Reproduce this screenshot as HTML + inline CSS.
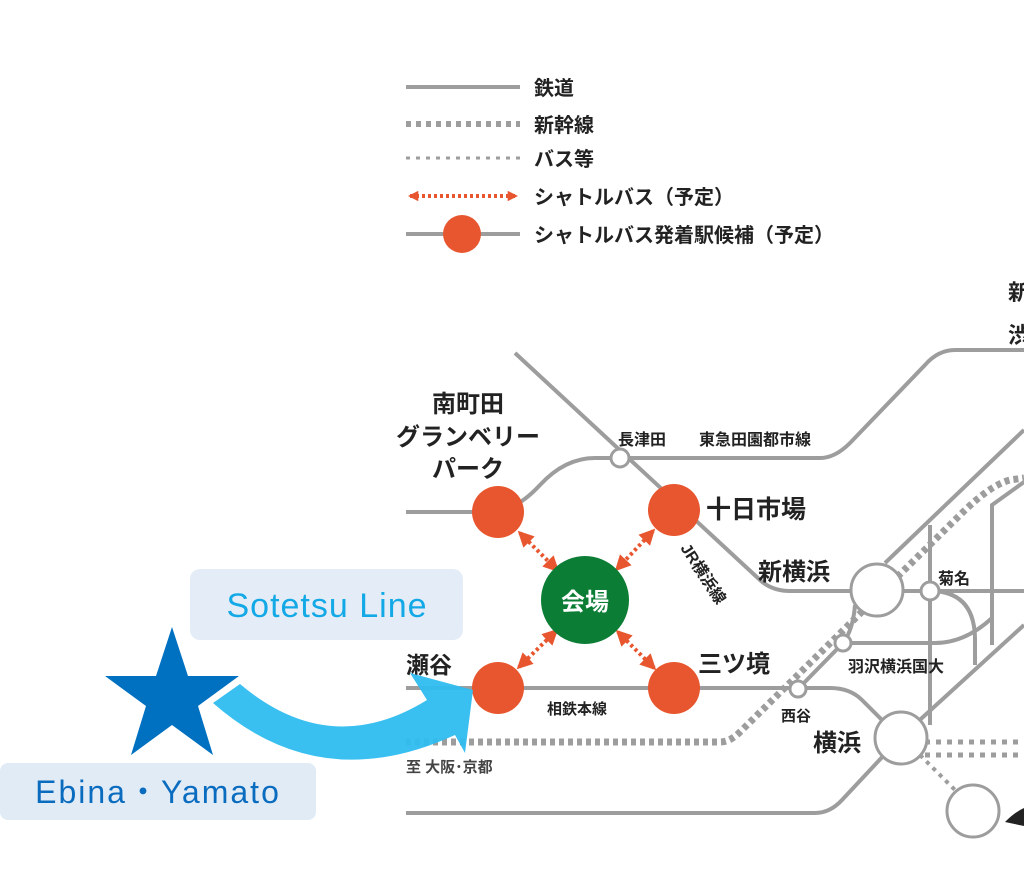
<!DOCTYPE html>
<html><head><meta charset="utf-8"><style>
html,body{margin:0;padding:0;background:#fff;}
svg{display:block;font-family:"Liberation Sans","Noto Sans CJK JP",sans-serif;}
</style></head><body>
<svg width="1024" height="873" viewBox="0 0 1024 873" xmlns="http://www.w3.org/2000/svg">
<defs>
<marker id="ah" viewBox="0 0 10 10" refX="8" refY="5" markerWidth="4" markerHeight="4" orient="auto-start-reverse"><path d="M0,0 L10,5 L0,10 Z" fill="#e8562f"/></marker>
<marker id="ah2" viewBox="0 0 10 10" refX="8" refY="5" markerWidth="2.6" markerHeight="2.6" orient="auto-start-reverse"><path d="M0,0 L10,5 L0,10 Z" fill="#e8562f"/></marker>
</defs>
<g fill="none" stroke="#9d9d9d" stroke-width="4">
<line x1="406" y1="87" x2="520" y2="87"/>
<line x1="406" y1="124" x2="520" y2="124" stroke-width="6" stroke-dasharray="5,5"/>
<line x1="406" y1="158" x2="520" y2="158" stroke-width="3" stroke-dasharray="4,6"/>
<line x1="406" y1="234" x2="520" y2="234"/>
<path d="M406,512 L490,512 Q515,512 540,485 Q565,458 595,458 L820,458 Q835,458 850,443 L925,365 Q938,350 955,350 L1024,350"/>
<path d="M515,353 L760,580 Q772,591 790,591 L1024,591" />
<path d="M930,591 Q975,591 975,640 L975,665"/>
<line x1="930" y1="525" x2="930" y2="725"/>
<path d="M992,645 L992,505 L1024,482"/>
<line x1="885" y1="563" x2="1024" y2="430"/>
<path d="M406,688 L830,688 Q850,688 862,700 L900,738"/>
<path d="M798,689 L843,643 Q853,630 855,605"/>
<path d="M843,643 L935,643 Q965,643 992,618"/>
<path d="M406,813 L815,813 Q830,813 842,800 L900,738"/>
<path d="M900,738 L1024,625"/>
<path d="M406,742 L720,742 Q730,742 740,732 L960,515 Q990,485 1010,480 L1024,478" stroke-width="7" stroke-dasharray="5,4"/>
<line x1="925" y1="742" x2="1024" y2="742" stroke-width="5" stroke-dasharray="5,6"/>
<line x1="925" y1="755" x2="1024" y2="755" stroke-width="5" stroke-dasharray="5,6"/>
<line x1="920" y1="755" x2="960" y2="795" stroke-width="4" stroke-dasharray="4,5"/>
</g>
<line x1="410" y1="196" x2="516" y2="196" stroke="#e8562f" stroke-width="4" stroke-dasharray="3,3" marker-start="url(#ah2)" marker-end="url(#ah2)"/>
<circle cx="462" cy="234" r="19" fill="#e8562f"/>
<g font-size="20" fill="#222" font-weight="bold">
<text x="534" y="95">鉄道</text>
<text x="534" y="132">新幹線</text>
<text x="534" y="166">バス等</text>
<text x="534" y="204">シャトルバス（予定）</text>
<text x="534" y="242">シャトルバス発着駅候補（予定）</text>
</g>
<g fill="#fff" stroke="#9d9d9d" stroke-width="3">
<circle cx="620" cy="458" r="9"/>
<circle cx="877" cy="590" r="26"/>
<circle cx="930" cy="591" r="9"/>
<circle cx="843" cy="643" r="8"/>
<circle cx="798" cy="689" r="8"/>
<circle cx="901" cy="738" r="26"/>
<circle cx="973" cy="811" r="26"/>
</g>
<path d="M1005,822 Q1015,812 1024,808 L1024,826 Z" fill="#222"/>
<g stroke="#e8562f" stroke-width="4" stroke-dasharray="3,3" fill="none">
<line x1="520" y1="533" x2="557" y2="570" marker-start="url(#ah)" marker-end="url(#ah)"/>
<line x1="653" y1="531" x2="617" y2="569" marker-start="url(#ah)" marker-end="url(#ah)"/>
<line x1="519" y1="667" x2="556" y2="631" marker-start="url(#ah)" marker-end="url(#ah)"/>
<line x1="654" y1="668" x2="618" y2="632" marker-start="url(#ah)" marker-end="url(#ah)"/>
</g>
<g fill="#e8562f">
<circle cx="498" cy="512" r="26"/>
<circle cx="674" cy="510" r="26"/>
<circle cx="498" cy="688" r="26"/>
<circle cx="674" cy="688" r="26"/>
</g>
<circle cx="585" cy="600" r="44" fill="#0b7d35"/>
<text x="585" y="610" font-size="24" font-weight="bold" fill="#fff" text-anchor="middle">会場</text>
<g fill="#222" font-weight="bold">
<text x="468" y="412" font-size="24" text-anchor="middle">南町田</text>
<text x="468" y="445" font-size="24" text-anchor="middle">グランベリー</text>
<text x="468" y="477" font-size="24" text-anchor="middle">パーク</text>
<text x="618" y="445" font-size="16">長津田</text>
<text x="699" y="445" font-size="16">東急田園都市線</text>
<text x="706" y="518" font-size="25">十日市場</text>
<text x="758" y="580" font-size="24">新横浜</text>
<text x="938" y="584" font-size="16">菊名</text>
<text x="848" y="672" font-size="16">羽沢横浜国大</text>
<text x="698" y="672" font-size="24">三ツ境</text>
<text x="781" y="721" font-size="15">西谷</text>
<text x="813" y="751" font-size="24">横浜</text>
<text x="547" y="714" font-size="15">相鉄本線</text>
<text x="406" y="772" font-size="15" fill="#444">至 大阪･京都</text>
<text x="406" y="673" font-size="23">瀬谷</text>
<text x="1008" y="300" font-size="22">新</text>
<text x="1008" y="343" font-size="22">渋</text>
<text font-size="16" transform="translate(680,548) rotate(57)">JR横浜線</text>
</g>
<rect x="190" y="569" width="273" height="71" rx="10" fill="#e4edf7"/>
<text x="327" y="617" font-size="34" fill="#13a9e6" text-anchor="middle" letter-spacing="1">Sotetsu Line</text>
<rect x="0" y="763" width="316" height="57" rx="8" fill="#e1ebf6"/>
<text x="158" y="803" font-size="32" fill="#0a6cbf" text-anchor="middle" letter-spacing="2">Ebina・Yamato</text>
<polygon points="172,627 188,676 239,676 198,706 213,755 172,725 131,755 146,706 105,676 156,676" fill="#0070c0"/>
<path d="M240,684 Q330,760 427,700 L410,673 L473,690 L465,753 L455,735 Q320,797 213,703 Z" fill="#2fbcf0" opacity="0.95"/>
</svg>
</body></html>
